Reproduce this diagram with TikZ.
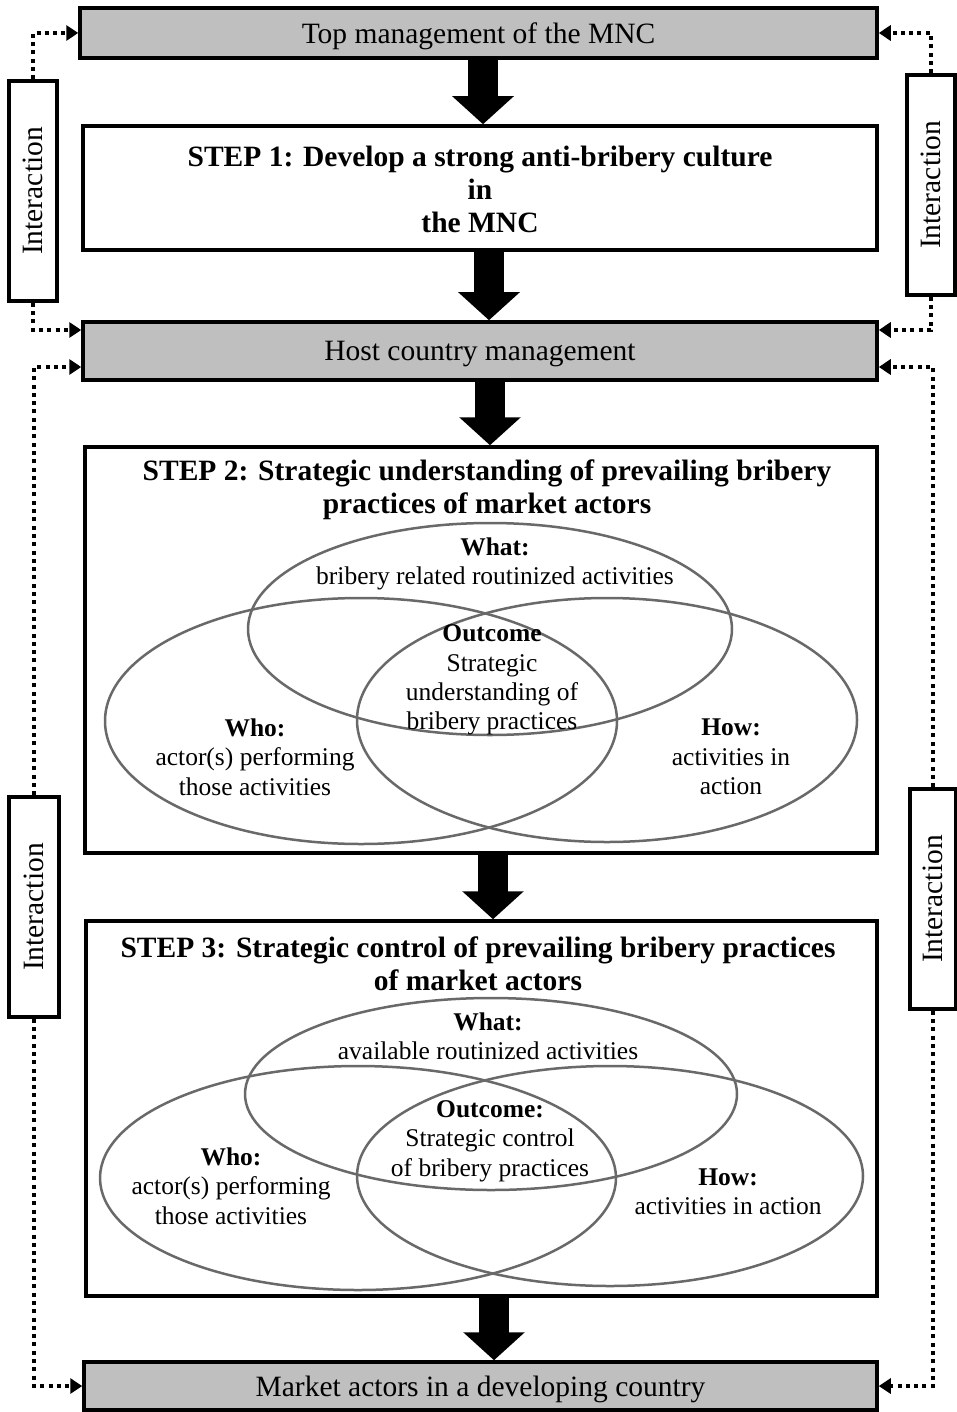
\documentclass[tikz,border=0pt]{standalone}
\usepackage{fontspec}
\setmainfont{Liberation Serif}
\usetikzlibrary{arrows.meta}
\definecolor{barfill}{RGB}{191,191,191}
\definecolor{venn}{RGB}{105,105,105}
\newcommand\mainsize{\fontsize{29.5}{33}\selectfont}
\newcommand\vennsize{\fontsize{25.5}{29.3}\selectfont}
\tikzset{
  bar/.style={draw=black, line width=3.5pt, fill=barfill, inner sep=0pt,
    font=\mainsize, text depth=0pt},
  stepbox/.style={draw=black, line width=3.5pt, fill=white, inner sep=0pt},
  interbox/.style={draw=black, line width=3.5pt, fill=white, inner sep=0pt,
    minimum width=48pt, minimum height=220pt, font=\mainsize},
  bigarrow/.style={draw=black, line width=30pt, -{Triangle[length=28pt,width=60pt]}},
  dotlink/.style={line width=4pt, dash pattern=on 4pt off 4.3pt,
    -{Triangle[length=12pt,width=15pt]}},
  vennline/.style={draw=venn, line width=2.5pt},
  venntext/.style={font=\vennsize, align=center, inner sep=0pt},
  steptitle/.style={font=\mainsize\bfseries, align=center, inner sep=0pt},
}
\begin{document}
\begin{tikzpicture}[x=1pt,y=-1pt]
\useasboundingbox (0,0) rectangle (956,1412);

% main column
\node[bar, minimum width=797pt, minimum height=50pt] (top) at (478.5,33) {Top management of the MNC};
\node[stepbox, minimum width=794pt, minimum height=124pt] (step1) at (480,188) {};
\node[steptitle] (s1text) at (480,189) {STEP 1: Develop a strong anti-bribery culture\\in\\the MNC};
\node[bar, minimum width=794pt, minimum height=58pt] (host) at (480,351) {Host country management};
\node[stepbox, minimum width=792pt, minimum height=406pt] (step2) at (481,650) {};
\node[stepbox, minimum width=791pt, minimum height=375pt] (step3) at (481.5,1108.5) {};
\node[bar, minimum width=793pt, minimum height=48pt] (market) at (480.5,1386) {Market actors in a developing country};

% step 2 content
\node[steptitle] (s2text) at (487,490) {STEP 2: Strategic understanding of prevailing bribery\\practices of market actors};
\draw[vennline] (490,629) ellipse [x radius=242pt, y radius=106pt];
\draw[vennline] (361,721) ellipse [x radius=256pt, y radius=123pt];
\draw[vennline] (607,720) ellipse [x radius=250pt, y radius=122pt];
\node[venntext] (what2) at (495,564) {\textbf{What:}\\bribery related routinized activities};
\node[venntext] (out2) at (492,680) {\textbf{Outcome}\\Strategic\\understanding of\\bribery practices};
\node[venntext] (who2) at (255,757) {\textbf{Who:}\\actor(s) performing\\those activities};
\node[venntext] (how2) at (731,757) {\textbf{How:}\\activities in\\action};

% step 3 content
\node[steptitle] (s3text) at (478,964) {STEP 3: Strategic control of prevailing bribery practices\\of market actors};
\draw[vennline] (491,1094) ellipse [x radius=246pt, y radius=96pt];
\draw[vennline] (358,1178) ellipse [x radius=258pt, y radius=112pt];
\draw[vennline] (610,1176) ellipse [x radius=253pt, y radius=110pt];
\node[venntext] (what3) at (488,1036) {\textbf{What:}\\available routinized activities};
\node[venntext] (out3) at (490,1141) {\textbf{Outcome:}\\Strategic control\\of bribery practices};
\node[venntext] (who3) at (231,1186) {\textbf{Who:}\\actor(s) performing\\those activities};
\node[venntext] (how3) at (728,1192) {\textbf{How:}\\activities in action};

% block arrows between the stages
\coordinate (ax1) at (483,0);
\coordinate (ax2) at (489,0);
\coordinate (ax3) at (490,0);
\coordinate (ax4) at (493,0);
\coordinate (ax5) at (494,0);
\draw[bigarrow] (top.south -| ax1) -- (step1.north -| ax1);
\draw[bigarrow] (step1.south -| ax2) -- (host.north -| ax2);
\draw[bigarrow] (host.south -| ax3) -- (step2.north -| ax3);
\draw[bigarrow] (step2.south -| ax4) -- (step3.north -| ax4);
\draw[bigarrow] (step3.south -| ax5) -- (market.north -| ax5);

% interaction boxes
\node[interbox] (intTL) at (33,191) {\rotatebox{90}{Interaction}};
\node[interbox] (intTR) at (931,185) {\rotatebox{90}{Interaction}};
\node[interbox, minimum width=50pt] (intBL) at (34,907) {\rotatebox{90}{Interaction}};
\node[interbox, minimum width=46pt] (intBR) at (933,899) {\rotatebox{90}{Interaction}};

% dotted interaction links
\draw[dotlink] (intTL.north) |- (top.west);
\draw[dotlink] (intTL.south) |- ([yshift=21pt]host.west);
\draw[dotlink] (intBL.north) |- ([yshift=-16pt]host.west);
\draw[dotlink] (intBL.south) |- (market.west);
\draw[dotlink] (intTR.north) |- (top.east);
\draw[dotlink] (intTR.south) |- ([yshift=21pt]host.east);
\draw[dotlink] (intBR.north) |- ([yshift=-16pt]host.east);
\draw[dotlink] (intBR.south) |- (market.east);
\end{tikzpicture}
\end{document}
